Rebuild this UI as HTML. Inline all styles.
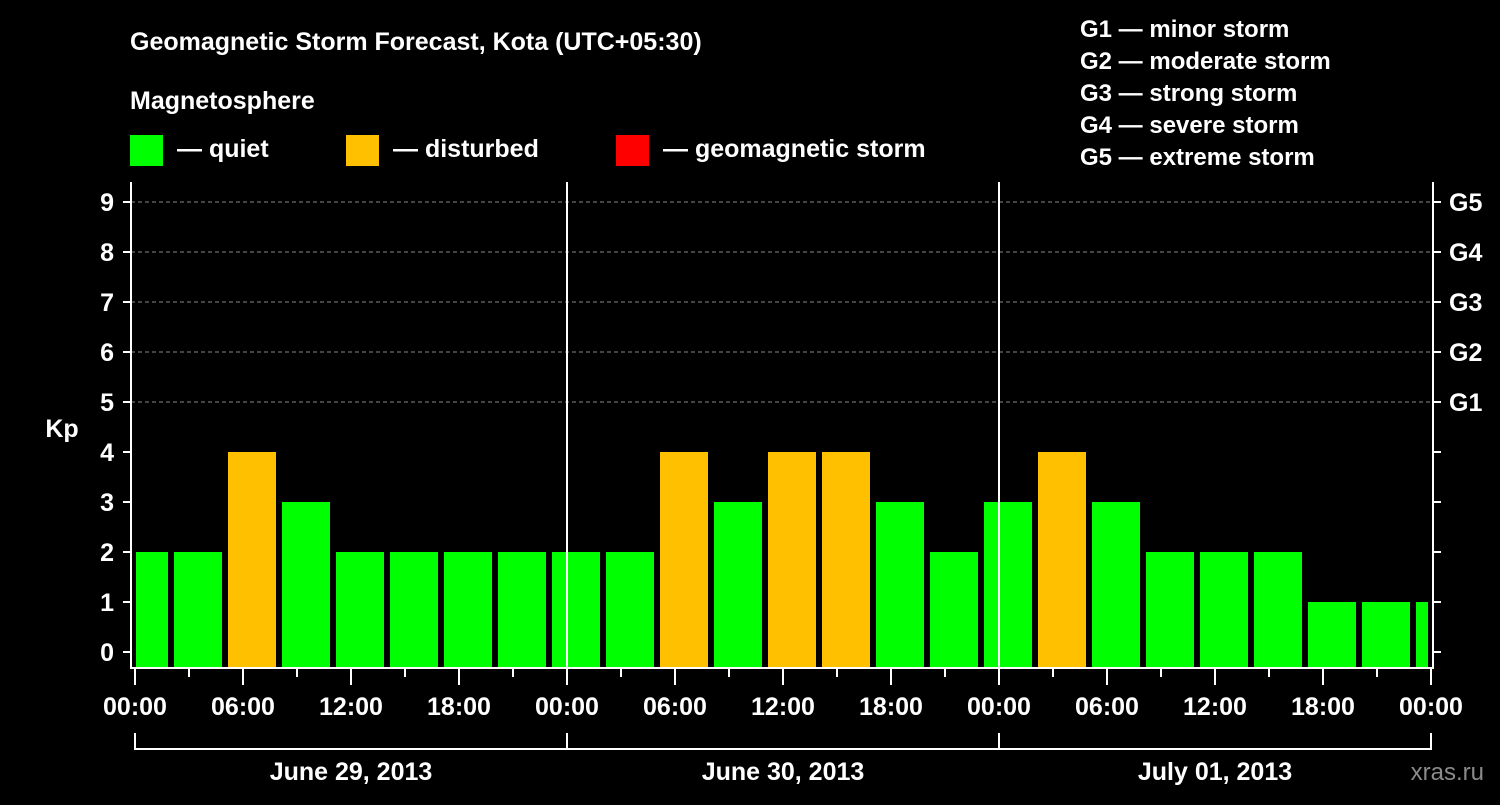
<!DOCTYPE html>
<html><head><meta charset="utf-8"><style>
html,body{margin:0;padding:0;background:#000;}
svg text{font-family:"Liberation Sans",Arial,sans-serif;font-weight:bold;fill:#fff;}
</style></head><body>
<svg id="c" width="1500" height="800" viewBox="0 0 1500 800" xmlns="http://www.w3.org/2000/svg">
<rect width="1500" height="800" fill="#000"/>
<text x="130" y="50" font-size="25">Geomagnetic Storm Forecast, Kota (UTC+05:30)</text>
<text x="130" y="109" font-size="25">Magnetosphere</text>
<g><rect x="130" y="135" width="33" height="31" fill="#00ff00"/><text x="177" y="157" font-size="25">— quiet</text></g>
<g><rect x="346" y="135" width="33" height="31" fill="#ffc000"/><text x="393" y="157" font-size="25">— disturbed</text></g>
<g><rect x="616" y="135" width="33" height="31" fill="#ff0000"/><text x="663" y="157" font-size="25">— geomagnetic storm</text></g>
<g font-size="24">
<text x="1080" y="37">G1 — minor storm</text>
<text x="1080" y="69">G2 — moderate storm</text>
<text x="1080" y="101">G3 — strong storm</text>
<text x="1080" y="133">G4 — severe storm</text>
<text x="1080" y="165">G5 — extreme storm</text>
</g>
<text x="62" y="437" font-size="25" text-anchor="middle">Kp</text>
<text x="1484" y="780" font-size="24" text-anchor="end" fill="#888" style="fill:#8a8a8a;font-weight:normal">xras.ru</text>
<g id="grid"></g>
<g id="bars"></g>
<g id="axes"></g>
</svg>
<script>
const kpValues=[2,2,4,3,2,2,2,2,2,2,4,3,4,4,3,2,3,4,3,2,2,2,1,1,1];
const yTicks=[0,1,2,3,4,5,6,7,8,9];
const gLabels=["G1","G2","G3","G4","G5"];
const gLevels=[5,6,7,8,9];
const xTickLabels=["00:00","06:00","12:00","18:00","00:00","06:00","12:00","18:00","00:00","06:00","12:00","18:00","00:00"];
const dayLabels=["June 29, 2013","June 30, 2013","July 01, 2013"];
const NS="http://www.w3.org/2000/svg";
const X0=135,PXH=18,Y0=652,PXK=50,L=131,R=1433,T=182,B=668;
const xs=h=>X0+h*PXH, ys=k=>Y0-k*PXK;
function mk(p,t,a){const e=document.createElementNS(NS,t);for(const k in a)e.setAttribute(k,a[k]);p.appendChild(e);return e;}
const grid=document.getElementById('grid'),bars=document.getElementById('bars'),axes=document.getElementById('axes');
gLevels.forEach((g,i)=>{
 const l=mk(grid,'line',{x1:L,x2:R,y1:ys(g),y2:ys(g),stroke:'#888','stroke-dasharray':'4,3','stroke-width':1});
 
 
 const t=mk(axes,'text',{x:1449,y:ys(g)+9,'font-size':25});t.textContent=gLabels[i];
 
 
});
kpValues.forEach((v,i)=>{
 const c=xs(0.5+3*i);let x1=Math.max(c-24,136),x2=Math.min(c+24,1428);
 const col=v>=5?'#ff0000':(v>=4?'#ffc000':'#00ff00');
 const r=mk(bars,'rect',{x:x1,y:ys(v),width:x2-x1,height:B-ys(v),fill:col});
 
 
});
[1,2].forEach(d=>{const l=mk(axes,'line',{x1:xs(24*d),x2:xs(24*d),y1:T,y2:B,stroke:'#fff','stroke-width':2});
 
 });
const fr=mk(axes,'path',{d:`M${L} ${T}V${B}H${R}V${T}`,stroke:'#fff','stroke-width':2,fill:'none'});


yTicks.forEach(k=>{
 mk(axes,'line',{x1:L-8,x2:L,y1:ys(k),y2:ys(k),stroke:'#fff','stroke-width':2});
 mk(axes,'line',{x1:R,x2:R+8,y1:ys(k),y2:ys(k),stroke:'#fff','stroke-width':2});
 const t=mk(axes,'text',{x:114,y:ys(k)+9,'font-size':25,'text-anchor':'end'});t.textContent=k;
 
 
});
for(let h=0;h<=72;h+=3){const maj=h%6===0;mk(axes,'line',{x1:xs(h),x2:xs(h),y1:B,y2:B+(maj?17:9),stroke:'#fff','stroke-width':2});}
xTickLabels.forEach((s,i)=>{const t=mk(axes,'text',{x:xs(6*i),y:715,'font-size':25,'text-anchor':'middle'});t.textContent=s;
 
 });
mk(axes,'path',{d:`M${xs(0)} 733V749H${xs(72)}V733`,stroke:'#fff','stroke-width':2,fill:'none'});
[1,2].forEach(d=>mk(axes,'line',{x1:xs(24*d),x2:xs(24*d),y1:733,y2:749,stroke:'#fff','stroke-width':2}));
dayLabels.forEach((s,i)=>{const t=mk(axes,'text',{x:xs(24*i+12),y:780,'font-size':25,'text-anchor':'middle'});t.textContent=s;
 
 });
</script>
</body></html>
